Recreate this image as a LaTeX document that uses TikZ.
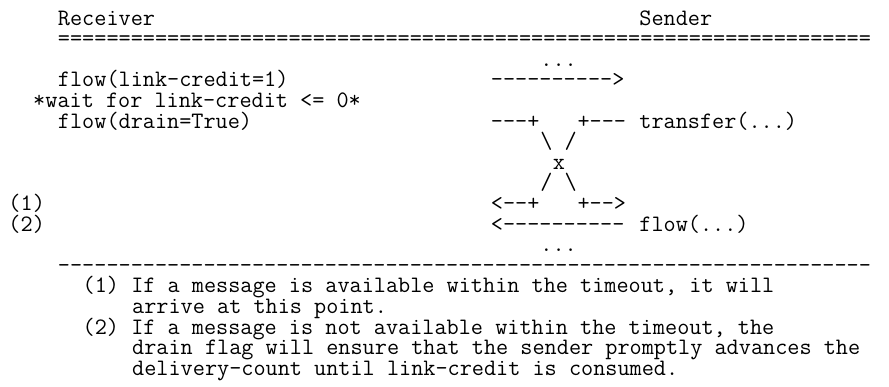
\documentclass[tikz,border=0pt]{standalone}
\usepackage{fontspec}
\usepackage{tikz}

\begin{document}
\begin{tikzpicture}[
    x=12.37pt, y=-20.6pt,
    txt/.style={anchor=base west, inner sep=0pt, outer sep=0pt, text height=14pt, text depth=4pt, font=\fontsize{23.56}{20.6}\selectfont\ttfamily},
]
\useasboundingbox (-8.5pt,25pt) rectangle (880.5pt,-361pt);

% header
\node[txt] (recv) at (4,0) {Receiver};
\node[txt] (send) at (51,0) {Sender};
\node[txt] (hdrrule) at (4,1) {===================================================================};

% exchange
\node[txt] (dotstop) at (43,2) {...};
\node[txt] (flowcredit) at (4,3) {flow(link-credit=1)};
\node[txt] (credarrow) at (39,3) {---------->};
\node[txt] (waitnote) at (2,4) {*wait for link-credit <= 0*};
\node[txt] (flowdrain) at (4,5) {flow(drain=True)};
\node[txt] (crossinl) at (39,5) {---+};
\node[txt] (crossinr) at (46,5) {+---};
\node[txt] (transfer) at (51,5) {transfer(...)};
\node[txt] (crossup) at (43,6) {\textbackslash{} /};
\node[txt] (crossx) at (44,7) {x};
\node[txt] (crossdown) at (43,8) {/ \textbackslash};
\node[txt] (mark1) at (0,9) {(1)};
\node[txt] (crossoutl) at (39,9) {<--+};
\node[txt] (crossoutr) at (46,9) {+-->};
\node[txt] (mark2) at (0,10) {(2)};
\node[txt] (flowarrow) at (39,10) {<----------};
\node[txt] (flowret) at (51,10) {flow(...)};
\node[txt] (dotsbot) at (43,11) {...};

% footnotes
\node[txt] (footrule) at (4,12) {-------------------------------------------------------------------};
\node[txt] (note1a) at (6,13) {(1) If a message is available within the timeout, it will};
\node[txt] (note1b) at (10,14) {arrive at this point.};
\node[txt] (note2a) at (6,15) {(2) If a message is not available within the timeout, the};
\node[txt] (note2b) at (10,16) {drain flag will ensure that the sender promptly advances the};
\node[txt] (note2c) at (10,17) {delivery-count until link-credit is consumed.};
\end{tikzpicture}
\end{document}
